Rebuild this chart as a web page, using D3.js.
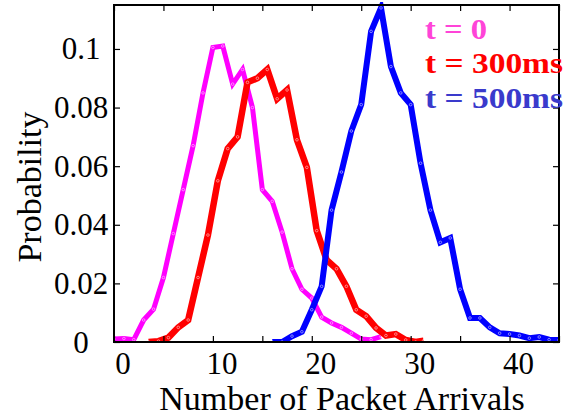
<!DOCTYPE html>
<html>
<head>
<meta charset="utf-8">
<script src="https://cdn.jsdelivr.net/npm/d3@7"></script>
<style>
  body { margin: 0; background: #fff; }
  svg { display: block; font-family: "Liberation Serif", "Times New Roman", serif; }
</style>
</head>
<body>
<div id="chart"></div>
<script>
// t = 0 (integer bins)
let xT0 = d3.range(0, 28);
let pT0 = [0.001, 0.0012, 0.0008, 0.0075, 0.0112, 0.022, 0.037, 0.052, 0.067, 0.085,
           0.1005, 0.101, 0.088, 0.093, 0.080, 0.052, 0.048, 0.0375, 0.025, 0.018,
           0.015, 0.0085, 0.0065, 0.005, 0.003, 0.001, 0.0008, 0.0018];
// t = 300ms (half-integer bins)
let xT300 = [3.5, 4.5, 5.5, 6.5, 7.5, 8.5, 9.5, 10.5, 11.5, 12.5, 13.5, 14.5, 15.5, 16.5,
             17.5, 18.5, 19.5, 20.5, 21.5, 22.5, 23.5, 24.5, 25.5, 26.5, 27.5, 28.5, 29.5, 30.5, 31.3];
let pT300 = [0, 0.0003, 0.0015, 0.005, 0.0075, 0.022, 0.0365, 0.055, 0.066, 0.070, 0.0886,
             0.090, 0.093, 0.083, 0.086, 0.069, 0.0596, 0.038, 0.028, 0.025, 0.019, 0.011,
             0.0088, 0.0048, 0.0022, 0.0027, 0.0007, 0, 0.0004];
// t = 500ms (integer bins)
let xT500 = d3.range(16, 46);
let pT500 = [0, 0, 0.002, 0.0035, 0.011, 0.019, 0.045, 0.058, 0.072, 0.081, 0.106, 0.114,
             0.094, 0.085, 0.081, 0.061, 0.045, 0.034, 0.0355, 0.018, 0.0082, 0.0082,
             0.005, 0.003, 0.0027, 0.0022, 0.0013, 0.0017, 0.0008, 0.0007];

let series = [
    { name: "t = 0", xs: xT0, ps: pT0, color: "#ff00ff", text: "#ff44d8", w: 5 },
    { name: "t = 300ms", xs: xT300, ps: pT300, color: "#ff0000", text: "#ff0000", w: 6.5 },
    { name: "t = 500ms", xs: xT500, ps: pT500, color: "#0000ff", text: "#3a3acc", w: 6 }
];

let xTicks = d3.range(0, 46, 5);
let xLabels = [0, 10, 20, 30, 40];
let yTicks = [0, 0.02, 0.04, 0.06, 0.08, 0.1];
let yLabels = ["0", "0.02", "0.04", "0.06", "0.08", "0.1"];

let width = 568;
let height = 416;
let margin = ({ top: 5, right: 9, bottom: 74, left: 114 });

let x = d3.scaleLinear().domain([0, 45]).range([margin.left, width - margin.right]);
let y = d3.scaleLinear().domain([0, 0.115]).range([height - margin.bottom, margin.top]);

const svg = d3.select("#chart").append("svg")
    .attr("width", width)
    .attr("height", height);

svg.append("clipPath").attr("id", "plot")
    .append("rect")
    .attr("x", margin.left)
    .attr("y", margin.top - 3)
    .attr("width", width - margin.left - margin.right)
    .attr("height", height - margin.top - margin.bottom + 3);

let line = d3.line().x(d => x(d[0])).y(d => y(d[1]));

let plot = svg.append("g").attr("clip-path", "url(#plot)");
series.forEach(s => {
    let pts = s.xs.map((v, i) => [v, s.ps[i]]);
    plot.append("path")
        .datum(pts)
        .attr("fill", "none")
        .attr("stroke", s.color)
        .attr("stroke-width", s.w)
        .attr("stroke-linejoin", "miter")
        .attr("d", line);
    plot.selectAll(null)
        .data(pts)
        .join("circle")
        .attr("cx", d => x(d[0]))
        .attr("cy", d => y(d[1]))
        .attr("r", 1.3)
        .attr("fill", "none")
        .attr("stroke", "#fff")
        .attr("stroke-width", 0.6)
        .attr("opacity", 0.8);
});

// axes box with inward ticks on all sides
let tickLen = 6;
let bottomY = y(0), topY = y(0.115), leftX = x(0), rightX = x(45);

svg.append("g")
    .attr("transform", `translate(0,${bottomY})`)
    .call(d3.axisBottom(x).tickValues(xTicks).tickSizeInner(-tickLen).tickSizeOuter(0).tickFormat(""))
    .call(g => g.select(".domain").remove());
svg.append("g")
    .attr("transform", `translate(0,${topY})`)
    .call(d3.axisTop(x).tickValues(xTicks).tickSizeInner(-tickLen).tickSizeOuter(0).tickFormat(""))
    .call(g => g.select(".domain").remove());
svg.append("g")
    .attr("transform", `translate(${leftX},0)`)
    .call(d3.axisLeft(y).tickValues(yTicks).tickSizeInner(-tickLen).tickSizeOuter(0).tickFormat(""))
    .call(g => g.select(".domain").remove());
svg.append("g")
    .attr("transform", `translate(${rightX},0)`)
    .call(d3.axisRight(y).tickValues(yTicks).tickSizeInner(-tickLen).tickSizeOuter(0).tickFormat(""))
    .call(g => g.select(".domain").remove());
svg.selectAll(".tick line").attr("stroke", "#000").attr("stroke-width", 1.2);

svg.append("rect")
    .attr("x", leftX)
    .attr("y", topY)
    .attr("width", rightX - leftX)
    .attr("height", bottomY - topY)
    .attr("fill", "none")
    .attr("stroke", "#000")
    .attr("stroke-width", 2);

// tick labels
svg.append("g").selectAll("text")
    .data(xLabels)
    .join("text")
    .attr("x", d => x(d) + 9)
    .attr("y", 374)
    .attr("text-anchor", "middle")
    .attr("font-size", 31)
    .attr("fill", "#000")
    .text(d => d);

svg.append("g").selectAll("text")
    .data(yTicks)
    .join("text")
    .attr("x", 81)
    .attr("y", d => y(d))
    .attr("dy", "0.34em")
    .attr("text-anchor", "middle")
    .attr("font-size", 31)
    .attr("fill", "#000")
    .text((d, i) => yLabels[i]);

// axis titles
svg.append("text")
    .attr("x", 342)
    .attr("y", 410)
    .attr("text-anchor", "middle")
    .attr("font-size", 34)
    .attr("fill", "#000")
    .text("Number of Packet Arrivals");

svg.append("text")
    .attr("transform", "translate(41,187) rotate(-90)")
    .attr("text-anchor", "middle")
    .attr("font-size", 34)
    .attr("fill", "#000")
    .text("Probability");

// legend
let legendY = [39, 73, 108];
let legendW = [62, 138, 138];
svg.append("g").selectAll("text")
    .data(series)
    .join("text")
    .attr("x", 425)
    .attr("y", (d, i) => legendY[i])
    .attr("font-size", 30)
    .attr("font-weight", "bold")
    .attr("textLength", (d, i) => legendW[i])
    .attr("lengthAdjust", "spacingAndGlyphs")
    .attr("fill", d => d.text)
    .text(d => d.name);
</script>
</body>
</html>
